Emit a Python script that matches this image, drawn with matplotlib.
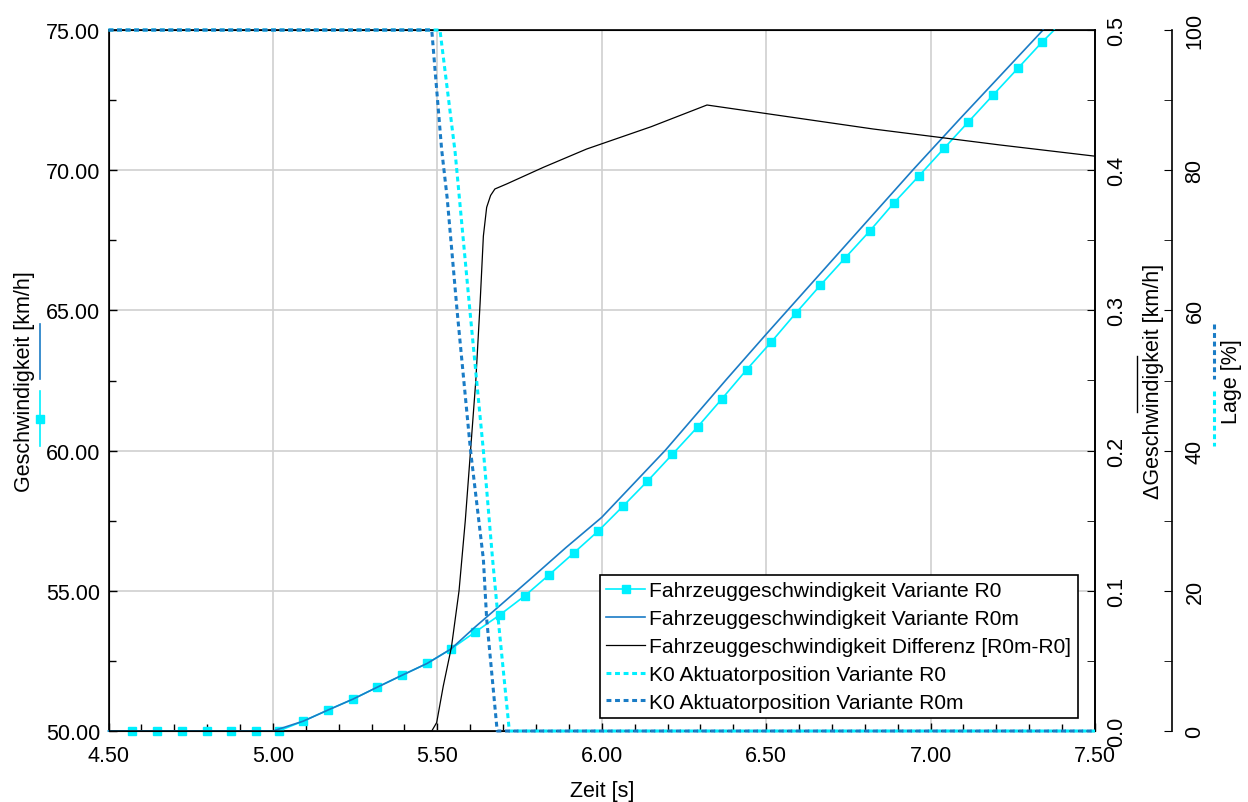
import matplotlib
matplotlib.use("Agg")
import matplotlib.pyplot as plt
from matplotlib.lines import Line2D
from matplotlib.ticker import MultipleLocator, FormatStrFormatter

plt.rcParams['font.family'] = ['Liberation Sans', 'DejaVu Sans']

# ---- vehicle speed, variant R0 [km/h] (sampled points, each one marked) ----
t_r0 = [4.500, 4.572, 4.648, 4.723, 4.799, 4.874, 4.948, 5.000, 5.019, 5.092,
        5.168, 5.244, 5.317, 5.393, 5.469, 5.541, 5.614, 5.690, 5.766, 5.839,
        5.915, 5.990, 6.064, 6.139, 6.215, 6.292, 6.365, 6.441, 6.516, 6.590,
        6.665, 6.740, 6.815, 6.889, 6.965, 7.041, 7.114, 7.190, 7.266, 7.340,
        7.376]
v_r0 = [50.00, 50.00, 50.00, 50.00, 50.00, 50.00, 50.00, 50.00, 50.01, 50.35,
        50.75, 51.14, 51.56, 51.99, 52.41, 52.92, 53.52, 54.14, 54.82, 55.56,
        56.35, 57.14, 58.01, 58.91, 59.87, 60.85, 61.84, 62.89, 63.88, 64.90,
        65.90, 66.87, 67.83, 68.84, 69.80, 70.78, 71.71, 72.68, 73.64, 74.58,
        75.00]
r0_marked = [1, 2, 3, 4, 5, 6] + list(range(8, 40))

# ---- vehicle speed, variant R0m [km/h] ----
t_r0m = [4.500, 5.000, 5.092, 5.168, 5.244, 5.317, 5.393, 5.469, 5.541, 5.614,
         5.690, 5.781, 5.890, 6.000, 6.194, 6.380, 6.500, 6.947, 7.089, 7.342]
v_r0m = [50.00, 50.00, 50.35, 50.75, 51.14, 51.56, 51.99, 52.41, 52.92, 53.70,
         54.47, 55.40, 56.53, 57.62, 60.02, 62.55, 64.15, 70.02, 71.83, 75.00]

# ---- speed difference R0m - R0 [km/h] ----
t_diff = [4.500, 5.483, 5.498, 5.518, 5.543, 5.566, 5.585, 5.601, 5.617, 5.630,
          5.640, 5.650, 5.662, 5.675, 5.711, 5.822, 5.954, 6.150, 6.320, 6.825,
          7.211, 7.500]
d_diff = [0.000, 0.000, 0.006, 0.032, 0.060, 0.100, 0.150, 0.200, 0.250, 0.305,
          0.353, 0.3735, 0.382, 0.3866, 0.3902, 0.402, 0.4151, 0.431, 0.4465, 0.4294,
          0.418, 0.410]

# ---- K0 actuator position [%] ----
t_k0_r0 = [4.500, 5.508, 5.554, 5.599, 5.640, 5.668, 5.685, 5.719, 7.500]
p_k0_r0 = [100.0, 100.0, 82.6, 60.0, 40.0, 24.5, 16.0, 0.0, 0.0]

t_k0_r0m = [4.500, 5.483, 5.513, 5.530, 5.560, 5.601, 5.640, 5.650, 5.682, 7.500]
p_k0_r0m = [100.0, 100.0, 83.0, 76.0, 60.0, 40.0, 24.5, 16.0, 0.0, 0.0]

CYAN = '#00f0ff'
BLUE = '#1a7cc6'
FS = 15.5
LEG_FS = 15.1
DASH = (0, (1.6, 1.2))

W, H = 1248, 803
fig = plt.figure(figsize=(W / 100, H / 100), dpi=100)
x0, x1, y_top, y_bot = 108.5, 1095.0, 31.0, 732.0
ax = fig.add_axes([x0 / W, 1 - y_bot / H, (x1 - x0) / W, (y_bot - y_top) / H])

# left axis: speeds
l_r0, = ax.plot(t_r0, v_r0, color=CYAN, lw=1.2, marker='s', ms=5.5,
                markevery=r0_marked, clip_on=False, zorder=3,
                label='Fahrzeuggeschwindigkeit Variante R0')
l_r0m, = ax.plot(t_r0m, v_r0m, color=BLUE, lw=1.2, clip_on=False, zorder=3,
                 label='Fahrzeuggeschwindigkeit Variante R0m')
ax.set_xlim(4.5, 7.5)
ax.set_ylim(50, 75)
ax.xaxis.set_major_locator(MultipleLocator(0.5))
ax.xaxis.set_minor_locator(MultipleLocator(0.1))
ax.xaxis.set_major_formatter(FormatStrFormatter('%.2f'))
ax.yaxis.set_major_locator(MultipleLocator(5))
ax.yaxis.set_minor_locator(MultipleLocator(2.5))
ax.yaxis.set_major_formatter(FormatStrFormatter('%.2f'))
ax.tick_params(axis='both', which='both', direction='in', labelsize=FS,
               top=False, right=False, width=1)
ax.tick_params(axis='both', which='major', length=6)
ax.tick_params(axis='both', which='minor', length=5)
ax.tick_params(axis='x', which='major', pad=10)
ax.tick_params(axis='y', which='major', pad=6)
ax.grid(True, which='major', color='#d0d0d0', lw=1.2)
ax.set_axisbelow(True)
ax.set_xlabel('Zeit [s]', fontsize=FS, labelpad=10)
ax.set_ylabel('Geschwindigkeit [km/h]', fontsize=FS, va='center')
ax.yaxis.set_label_coords((25 - x0) / (x1 - x0), 0.5)
for s in ax.spines.values():
    s.set_color('black')
    s.set_linewidth(1.2)

# first right axis: speed difference
ax2 = ax.twinx()
l_diff, = ax2.plot(t_diff, d_diff, color='black', lw=0.9, zorder=3,
                   label='Fahrzeuggeschwindigkeit Differenz [R0m-R0]')
ax2.set_ylim(0, 0.5)
ax2.yaxis.set_major_locator(MultipleLocator(0.1))
ax2.yaxis.set_minor_locator(MultipleLocator(0.05))
ax2.yaxis.set_major_formatter(FormatStrFormatter('%.1f'))
ax2.tick_params(axis='y', which='both', direction='in', labelsize=FS,
                labelrotation=90, pad=8, length=6)
for lab in ax2.get_yticklabels():
    lab.set_va('center')
ax2.set_ylabel('\u0394Geschwindigkeit [km/h]', fontsize=FS, va='center')
ax2.yaxis.set_label_coords((1153 - x0) / (x1 - x0), 0.5)
ax2.spines['right'].set_linewidth(1.2)

# second right axis: actuator position
ax3 = ax.twinx()
ax3.spines['right'].set_position(('axes', (1172 - x0) / (x1 - x0)))
for k in ('top', 'bottom', 'left'):
    ax3.spines[k].set_visible(False)
ax3.spines['right'].set_linewidth(1.2)
l_k0, = ax3.plot(t_k0_r0, p_k0_r0, color=CYAN, lw=2.2, ls=DASH,
                 clip_on=False, zorder=3, label='K0 Aktuatorposition Variante R0')
l_k0m, = ax3.plot(t_k0_r0m, p_k0_r0m, color=BLUE, lw=2.2, ls=DASH,
                  clip_on=False, zorder=3, label='K0 Aktuatorposition Variante R0m')
ax3.set_ylim(0, 100)
ax3.yaxis.set_major_locator(MultipleLocator(20))
ax3.yaxis.set_minor_locator(MultipleLocator(10))
ax3.tick_params(axis='y', which='both', direction='in', labelsize=FS,
                labelrotation=90, pad=9, length=6)
for lab in ax3.get_yticklabels():
    lab.set_va('center')
ax3.set_ylabel('Lage [%]', fontsize=FS, va='center')
ax3.yaxis.set_label_coords((1232 - x0) / (x1 - x0), 0.5)

# small series keys next to the axis titles
def key(x, ya, yb, **kw):
    fig.add_artist(Line2D([x / W, x / W], [1 - ya / H, 1 - yb / H], **kw))

key(40, 325, 380, color=BLUE, lw=1.2)
key(40, 392, 447, color=CYAN, lw=1.2)
fig.add_artist(Line2D([40 / W], [1 - 420 / H], color=CYAN, marker='s', ms=5.5, ls='none'))
key(1137, 357, 413, color='black', lw=1.0)
key(1214, 325, 380, color=BLUE, lw=2.2, ls=DASH)
key(1214, 392, 447, color=CYAN, lw=2.2, ls=DASH)

handles = [l_r0, l_r0m, l_diff, l_k0, l_k0m]
leg = ax3.legend(handles=handles, loc='lower left',
                 bbox_to_anchor=(600 / W, 1 - 719 / H), bbox_transform=fig.transFigure,
                 fontsize=LEG_FS, frameon=True, fancybox=False, edgecolor='black',
                 framealpha=1, borderpad=0.3, labelspacing=0.42, handlelength=1.85,
                 handletextpad=0.2, borderaxespad=0, numpoints=1)
leg.get_frame().set_linewidth(1.2)
leg.set_zorder(10)

fig.savefig('out.png', dpi=100)
